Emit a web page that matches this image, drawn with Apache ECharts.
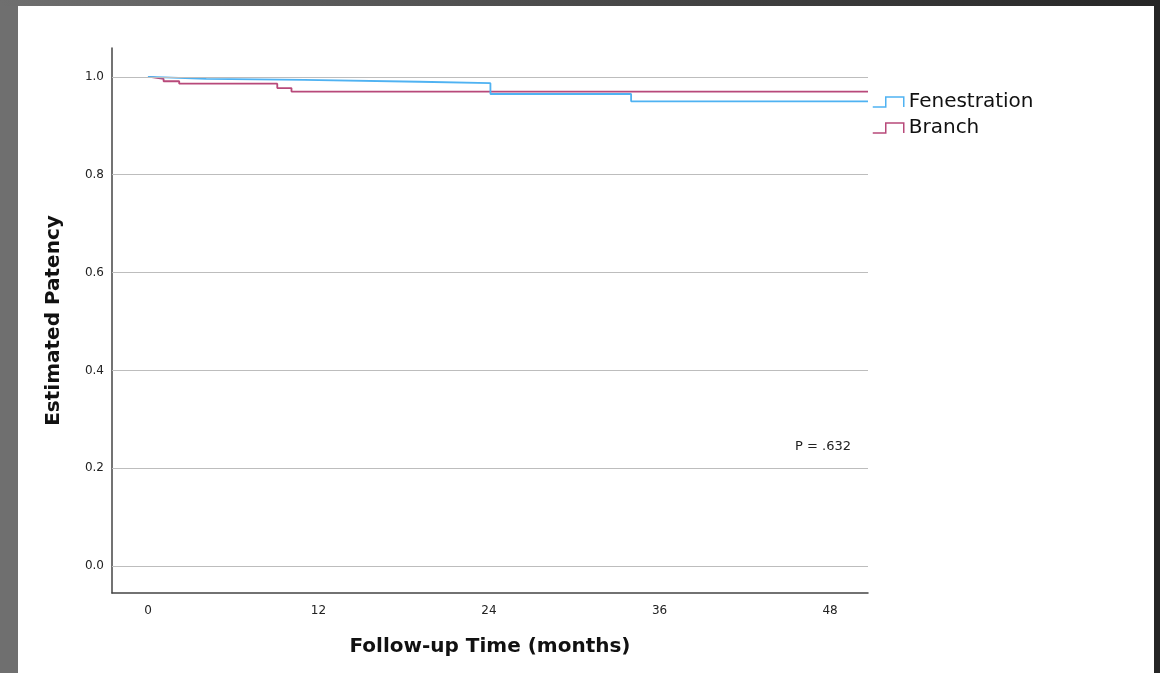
<!DOCTYPE html>
<html>
<head>
<meta charset="utf-8">
<title>Estimated Patency: Fenestration vs Branch</title>
<script src="https://cdn.jsdelivr.net/npm/echarts@6/dist/echarts.min.js"></script>
<style>
  html, body { margin: 0; padding: 0; width: 1160px; height: 673px; overflow: hidden; background: #262626; }
  #edgeLeft { position: absolute; left: 0; top: 0; width: 18px; height: 673px; background: #6f6f6f; }
  #edgeTop { position: absolute; left: 0; top: 0; width: 1160px; height: 6px; background: linear-gradient(to right, #6f6f6f, #4a4a4a 50%, #262626); }
  #chart { position: absolute; left: 18px; top: 6px; width: 1136px; height: 667px; background: #ffffff; }
</style>
</head>
<body>
<div id="edgeLeft"></div>
<div id="edgeTop"></div>
<div id="chart"></div>
<script>
// Kaplan–Meier steps: [time in months, estimated patency]
const fenestrationTimes  = [0, 0.1, 1.2, 3.1, 4.1, 11.0, 19.1, 24.1, 34.0, 50.67];
const fenestrationValues = [1.0, 0.999, 0.997, 0.996, 0.994, 0.990, 0.987, 0.965, 0.950, 0.950];
const branchTimes  = [0, 0.15, 1.1, 2.2, 9.1, 10.1, 50.67];
const branchValues = [1.0, 0.996, 0.991, 0.986, 0.977, 0.970, 0.970];

const xTicks = [0, 12, 24, 36, 48];
const yTicks = [0.0, 0.2, 0.4, 0.6, 0.8, 1.0];
const seriesNames = ['Fenestration', 'Branch'];
const pValueText = 'P = .632';

const BLUE = '#4fb2f2';
const RED = '#b8497a';
const FONT = 'DejaVu Sans';
const stepIcon = 'path://M0,10 L13,10 L13,0 L31,0 L31,10';

const pairs = (xs, ys) => xs.map((x, i) => [x, ys[i]]);

const chart = echarts.init(document.getElementById('chart'), null, { renderer: 'canvas' });

chart.setOption({
  animation: false,
  backgroundColor: '#ffffff',
  grid: { left: 94, top: 42, width: 756, height: 545, containLabel: false },
  legend: {
    left: 854, top: 86, orient: 'vertical', padding: 0,
    itemWidth: 31, itemHeight: 10, itemGap: 6,
    textStyle: { fontFamily: FONT, fontSize: 20, color: '#111' },
    selectedMode: false,
    data: [
      { name: seriesNames[0], icon: stepIcon, itemStyle: { color: 'transparent', borderColor: BLUE, borderWidth: 1.5 } },
      { name: seriesNames[1], icon: stepIcon, itemStyle: { color: 'transparent', borderColor: RED, borderWidth: 1.5 } }
    ]
  },
  xAxis: {
    type: 'value', min: -2.53, max: 50.67,
    axisLine: { onZero: false, lineStyle: { color: '#444', width: 1.5 } },
    axisTick: { show: false },
    splitLine: { show: false },
    axisLabel: { customValues: xTicks, margin: 12, fontFamily: FONT, fontSize: 12, color: '#222' },
    name: 'Follow-up Time (months)', nameLocation: 'middle', nameGap: 44,
    nameTextStyle: { fontFamily: FONT, fontSize: 20, fontWeight: 'bold', color: '#111' }
  },
  yAxis: {
    type: 'value', min: -0.055, max: 1.059,
    axisLine: { show: true, onZero: false, lineStyle: { color: '#444', width: 1.5 } },
    axisTick: { show: false },
    splitLine: { show: false },
    axisLabel: { customValues: yTicks, margin: 8, fontFamily: FONT, fontSize: 12, color: '#222',
                 formatter: v => v.toFixed(1) },
    name: 'Estimated Patency', nameLocation: 'middle', nameRotate: 90, nameGap: 48,
    nameTextStyle: { fontFamily: FONT, fontSize: 20, fontWeight: 'bold', color: '#111' }
  },
  graphic: [
    { type: 'text', left: 777, top: 434, z: 10,
      style: { text: pValueText, font: '13px "' + FONT + '"', fill: '#222' } }
  ],
  series: [
    {
      name: 'gridlines', type: 'line', data: [], z: 1, silent: true,
      markLine: {
        silent: true, symbol: ['none', 'none'], animation: false,
        label: { show: false },
        lineStyle: { color: '#bdbdbd', width: 1, type: 'solid' },
        emphasis: { disabled: true },
        data: yTicks.map(v => ({ yAxis: v }))
      }
    },
    {
      name: seriesNames[0], type: 'line', step: 'end', showSymbol: false, z: 3,
      data: pairs(fenestrationTimes, fenestrationValues),
      lineStyle: { color: BLUE, width: 1.8 }, itemStyle: { color: BLUE },
      emphasis: { disabled: true }
    },
    {
      name: seriesNames[1], type: 'line', step: 'end', showSymbol: false, z: 2,
      data: pairs(branchTimes, branchValues),
      lineStyle: { color: RED, width: 1.8 }, itemStyle: { color: RED },
      emphasis: { disabled: true }
    }
  ]
});
</script>
</body>
</html>
